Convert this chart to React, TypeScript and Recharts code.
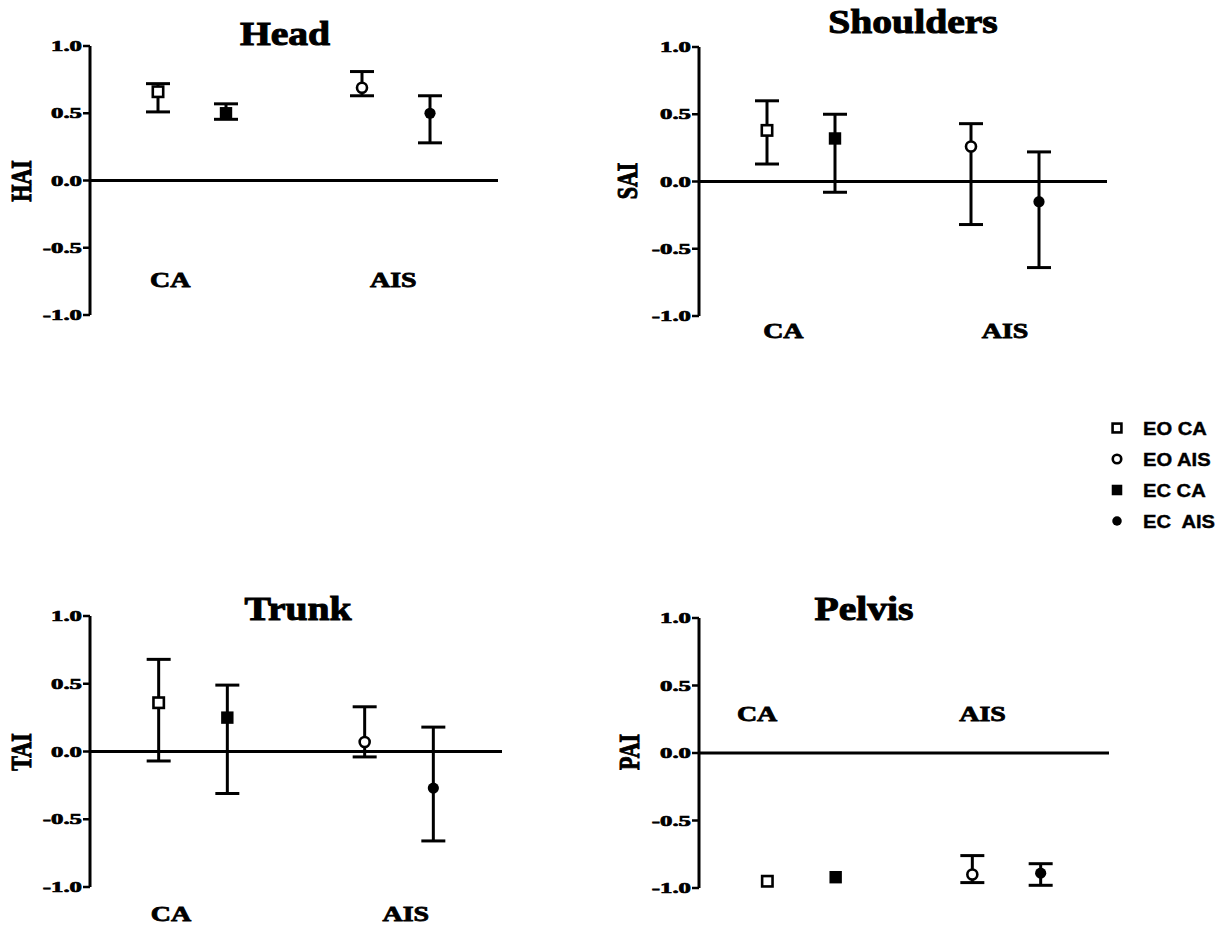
import { ScatterChart, Scatter, XAxis, YAxis, ErrorBar, ReferenceLine, ReferenceDot } from 'recharts';

// series in the order they sit along the x axis
const seriesNames = ['EO CA', 'EC CA', 'EO AIS', 'EC AIS'];
const seriesX = [1, 2, 4, 5];
const legendOrder = [0, 2, 1, 3];
const legendNames = ['EO CA', 'EC CA', 'EO AIS', 'EC  AIS'];
const groupLabels = ['CA', 'AIS'];
const yTicks = [-1, -0.5, 0, 0.5, 1];

// Head (HAI)
const headMean = [0.66, 0.5, 0.69, 0.5];
const headLow = [0.51, 0.455, 0.63, 0.28];
const headHigh = [0.72, 0.57, 0.81, 0.63];

// Shoulders (SAI)
const shouldersMean = [0.38, 0.32, 0.26, -0.15];
const shouldersLow = [0.13, -0.08, -0.32, -0.64];
const shouldersHigh = [0.6, 0.5, 0.43, 0.22];

// Trunk (TAI)
const trunkMean = [0.36, 0.25, 0.07, -0.27];
const trunkLow = [-0.07, -0.31, -0.04, -0.66];
const trunkHigh = [0.68, 0.49, 0.33, 0.18];

// Pelvis (PAI)
const pelvisMean = [-0.95, -0.92, -0.9, -0.89];
const pelvisLow = [-0.95, -0.92, -0.96, -0.98];
const pelvisHigh = [-0.95, -0.92, -0.76, -0.82];

const SERIF = '"Liberation Serif", "Times New Roman", serif';
const SANS = '"Liberation Sans", Arial, sans-serif';
const AXIS_W = 60;

type Kind = 'openSquare' | 'openCircle' | 'square' | 'circle';
const kinds: Kind[] = ['openSquare', 'square', 'openCircle', 'circle'];

function Marker({ cx, cy, kind, s = 1 }: { cx: number; cy: number; kind: Kind; s?: number }) {
  if (kind === 'openSquare')
    return <rect x={cx - 5.2 * s} y={cy - 5.2 * s} width={10.4 * s} height={10.4 * s} fill="#fff" stroke="#000" strokeWidth={2.6} />;
  if (kind === 'square')
    return <rect x={cx - 6.2 * s} y={cy - 6.2 * s} width={12.4 * s} height={12.4 * s} fill="#000" />;
  if (kind === 'openCircle')
    return <circle cx={cx} cy={cy} r={5 * s} fill="#fff" stroke="#000" strokeWidth={2.6} />;
  return <circle cx={cx} cy={cy} r={5.6 * s} fill="#000" />;
}

function Stretch({ x, y, text, size, sx, anchor = 'middle', rotate = false, family = SERIF, sw = 0.8 }: any) {
  const t = `translate(${x},${y}) scale(${sx},1)${rotate ? ' rotate(-90)' : ''}`;
  return (
    <text transform={t} textAnchor={anchor} fontFamily={family} fontWeight="bold" fontSize={size}
      fill="#000" stroke="#000" strokeWidth={sw} dy={rotate ? '0.33em' : undefined}
      style={{ whiteSpace: 'pre' }}>
      {text}
    </text>
  );
}

const YTick = (props: any) => {
  const { x, y, payload } = props;
  return (
    <text transform={`translate(${x},${y}) scale(1.65,1)`} textAnchor="end" dy="0.34em"
      fontFamily={SERIF} fontWeight="bold" fontSize={15} fill="#000" stroke="#000" strokeWidth={0.7}>
      {Number(payload.value).toFixed(1)}
    </text>
  );
};

const NoShape = () => <g />;

interface PanelProps {
  mean: number[];
  low: number[];
  high: number[];
  box: { x: number; y: number; w: number; h: number };
  plot: { l: number; r: number; t: number; b: number };
  labelX: number[];
  labelY: number;
}

function Panel({ mean, low, high, box, plot, labelX, labelY }: PanelProps) {
  const margin = {
    left: plot.l - box.x - AXIS_W,
    right: box.x + box.w - plot.r,
    top: plot.t - box.y,
    bottom: box.y + box.h - plot.b,
  };
  const rows = seriesNames.map((name, i) => ({
    name,
    data: [{
      x: seriesX[i],
      y: mean[i],
      err: high[i] > low[i] ? [mean[i] - low[i], high[i] - mean[i]] : undefined,
    }],
  }));
  return (
    <div style={{ position: 'absolute', left: box.x, top: box.y, width: box.w, height: box.h }}>
      {/* bottom layer: axis, zero line, labels, error bars */}
      <div style={{ position: 'absolute', left: 0, top: 0 }}>
        <ScatterChart width={box.w} height={box.h} margin={margin}>
          <XAxis type="number" dataKey="x" domain={[0, 6]} hide />
          <YAxis
            type="number"
            dataKey="y"
            domain={[-1, 1]}
            ticks={yTicks}
            interval={0}
            width={AXIS_W}
            axisLine={{ stroke: '#000', strokeWidth: 3 }}
            tickLine={{ stroke: '#000', strokeWidth: 2.5 }}
            tickSize={7}
            tickMargin={1}
            tick={<YTick />}
          />
          <ReferenceLine y={0} stroke="#000" strokeWidth={3} />
          {groupLabels.map((g, i) => (
            <ReferenceDot
              key={g}
              x={labelX[i]}
              y={labelY}
              ifOverflow="visible"
              shape={(p: any) => <Stretch x={p.cx} y={p.cy} text={g} size={21} sx={1.33} />}
            />
          ))}
          {rows.map((r) => (
            <Scatter key={r.name} name={r.name} data={r.data} isAnimationActive={false} shape={NoShape}>
              <ErrorBar dataKey="err" direction="y" width={12} strokeWidth={3} stroke="#000" />
            </Scatter>
          ))}
        </ScatterChart>
      </div>
      {/* top layer: markers drawn over the error bars */}
      <div style={{ position: 'absolute', left: 0, top: 0 }}>
        <ScatterChart width={box.w} height={box.h} margin={{ ...margin, left: margin.left + AXIS_W }}>
          <XAxis type="number" dataKey="x" domain={[0, 6]} hide />
          <YAxis type="number" dataKey="y" domain={[-1, 1]} hide />
          {rows.map((r, i) => (
            <Scatter
              key={r.name}
              name={r.name}
              data={r.data}
              isAnimationActive={false}
              shape={(p: any) => <Marker cx={p.cx} cy={p.cy} kind={kinds[i]} />}
            />
          ))}
        </ScatterChart>
      </div>
    </div>
  );
}

export default function App() {
  return (
    <div style={{ position: 'absolute', left: 0, top: 0, width: 1230, height: 929, background: '#fff' }}>
      <Panel mean={headMean} low={headLow} high={headHigh}
        box={{ x: 0, y: 0, w: 530, h: 345 }} plot={{ l: 90, r: 498, t: 46, b: 315 }}
        labelX={[1.18, 4.46]} labelY={-0.79} />
      <Panel mean={shouldersMean} low={shouldersLow} high={shouldersHigh}
        box={{ x: 600, y: 0, w: 530, h: 350 }} plot={{ l: 699, r: 1107, t: 47, b: 316 }}
        labelX={[1.24, 4.5]} labelY={-1.16} />
      <Panel mean={trunkMean} low={trunkLow} high={trunkHigh}
        box={{ x: 0, y: 570, w: 530, h: 359 }} plot={{ l: 90, r: 502, t: 616, b: 887 }}
        labelX={[1.18, 4.6]} labelY={-1.25} />
      <Panel mean={pelvisMean} low={pelvisLow} high={pelvisHigh}
        box={{ x: 600, y: 570, w: 530, h: 359 }} plot={{ l: 699, r: 1109, t: 618, b: 888 }}
        labelX={[0.85, 4.15]} labelY={0.24} />

      <svg width={1230} height={929} style={{ position: 'absolute', left: 0, top: 0, pointerEvents: 'none' }}>
        <Stretch x={285} y={45} text="Head" size={33} sx={1.2} sw={1} />
        <Stretch x={913} y={33} text="Shoulders" size={33} sx={1.2} sw={1} />
        <Stretch x={298} y={620} text="Trunk" size={33} sx={1.2} sw={1} />
        <Stretch x={864} y={620} text="Pelvis" size={33} sx={1.2} sw={1} />

        <Stretch x={22} y={181} text="HAI" size={22} sx={1.3} rotate />
        <Stretch x={628} y={181} text="SAI" size={22} sx={1.3} rotate />
        <Stretch x={22} y={752} text="TAI" size={22} sx={1.3} rotate />
        <Stretch x={630} y={752} text="PAI" size={22} sx={1.3} rotate />

        {legendOrder.map((si, row) => {
          const cy = 428 + row * 31;
          return (
            <g key={si}>
              <Marker cx={1117} cy={cy} kind={kinds[si]} s={0.85} />
              <Stretch x={1143} y={cy + 6.5} text={legendNames[si]} size={18} sx={1.12} anchor="start" family={SANS} sw={0.4} />
            </g>
          );
        })}
      </svg>
    </div>
  );
}
